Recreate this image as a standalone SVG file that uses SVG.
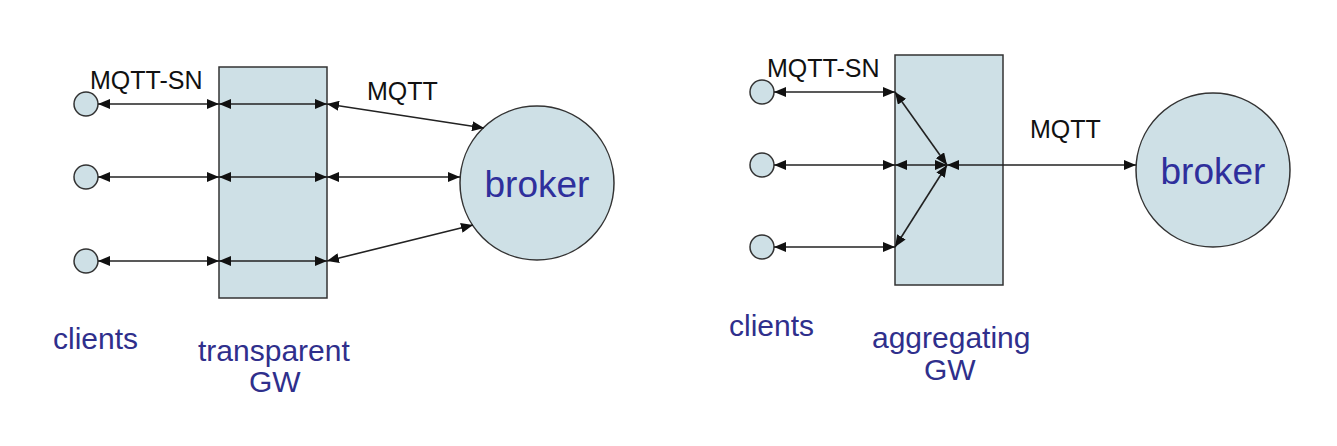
<svg xmlns="http://www.w3.org/2000/svg" width="1337" height="446" viewBox="0 0 1337 446">
<defs>
<marker id="ah" viewBox="0 0 12 10" refX="12" refY="5" markerWidth="12" markerHeight="10" markerUnits="userSpaceOnUse" orient="auto-start-reverse">
<path d="M0,0 L12,5 L0,10 z" fill="#111"/>
</marker>
<style>
.node{fill:#cee0e6;stroke:#333;stroke-width:1.5}
.c{fill:none;stroke:#222;stroke-width:1.6;marker-start:url(#ah);marker-end:url(#ah)}
.lbl{font-family:"Liberation Sans",Arial,sans-serif;font-size:25px;fill:#111}
.blue{font-family:"Liberation Sans",Arial,sans-serif;font-size:30px;fill:#2f2f8c}
.bk{font-family:"Liberation Sans",Arial,sans-serif;font-size:37px;fill:#2f2f9c;text-anchor:middle}
</style>
</defs>
<rect width="1337" height="446" fill="#fff"/>

<g id="left-gw"><rect class="node" x="219" y="67" width="108" height="231"/></g>
<g id="left-client1"><circle class="node" cx="86" cy="104" r="12"/></g>
<g id="left-client2"><circle class="node" cx="86" cy="177" r="12"/></g>
<g id="left-client3"><circle class="node" cx="86" cy="261" r="12"/></g>
<g id="left-broker"><circle class="node" cx="537" cy="183" r="77"/><text class="bk" x="537" y="197">broker</text></g>

<g id="right-gw"><rect class="node" x="895" y="55" width="108" height="230"/></g>
<g id="right-client1"><circle class="node" cx="762" cy="92" r="12"/></g>
<g id="right-client2"><circle class="node" cx="762" cy="165" r="12"/></g>
<g id="right-client3"><circle class="node" cx="762" cy="247" r="12"/></g>
<g id="right-broker"><circle class="node" cx="1213" cy="170" r="77"/><text class="bk" x="1213" y="184">broker</text></g>

<g id="connectors">
<line class="c" x1="98" y1="104" x2="219" y2="104"/>
<line class="c" x1="98" y1="177" x2="219" y2="177"/>
<line class="c" x1="98" y1="261" x2="219" y2="261"/>
<line class="c" x1="219" y1="104" x2="327" y2="104"/>
<line class="c" x1="219" y1="177" x2="327" y2="177"/>
<line class="c" x1="219" y1="261" x2="327" y2="261"/>
<line class="c" x1="327" y1="104" x2="484" y2="128"/>
<line class="c" x1="327" y1="177" x2="460" y2="177"/>
<line class="c" x1="327" y1="261" x2="473" y2="225"/>

<line class="c" x1="774" y1="92" x2="895" y2="92"/>
<line class="c" x1="774" y1="165" x2="895" y2="165"/>
<line class="c" x1="774" y1="247" x2="895" y2="247"/>
<line class="c" x1="895" y1="92" x2="947" y2="165"/>
<line class="c" x1="895" y1="165" x2="947" y2="165"/>
<line class="c" x1="895" y1="247" x2="947" y2="165"/>
<line class="c" x1="947" y1="165" x2="1136" y2="165"/>
</g>

<text class="lbl" x="90" y="89">MQTT-SN</text>
<text class="lbl" x="367" y="100">MQTT</text>
<text class="blue" x="53" y="349">clients</text>
<text class="blue" x="198" y="361">transparent</text>
<text class="blue" x="249" y="392">GW</text>

<text class="lbl" x="767" y="77">MQTT-SN</text>
<text class="lbl" x="1030" y="138">MQTT</text>
<text class="blue" x="729" y="336">clients</text>
<text class="blue" x="872" y="348">aggregating</text>
<text class="blue" x="924" y="380">GW</text>
</svg>
